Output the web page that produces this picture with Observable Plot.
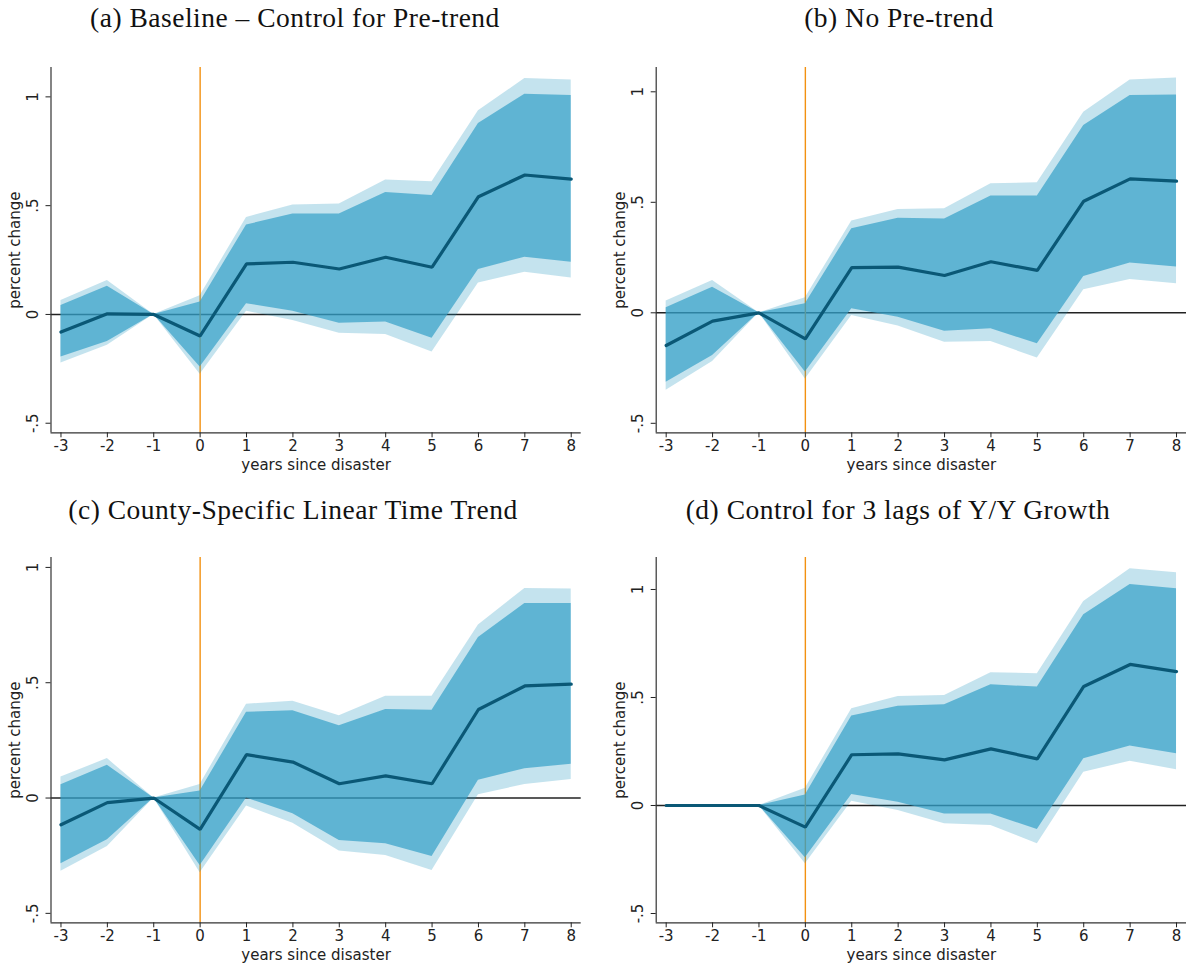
<!DOCTYPE html>
<html>
<head>
<meta charset="utf-8">
<script src="https://cdn.jsdelivr.net/npm/d3@7"></script>
<script src="https://cdn.jsdelivr.net/npm/@observablehq/plot@0.6"></script>
<style>
  body { margin: 0; background: #fff; }
  #fig { position: relative; width: 1188px; height: 967px; overflow: hidden; background: #fff; }
  .title { position: absolute; width: 600px; text-align: center; white-space: nowrap;
           font-family: "Liberation Serif", "DejaVu Serif", serif; font-size: 27.5px; letter-spacing: 0.5px; line-height: 30px; color: #111; }
  .panel { position: absolute; }
</style>
</head>
<body>
<div id="fig"></div>
<script>
// ---------- data ----------
const years = [-3, -2, -1, 0, 1, 2, 3, 4, 5, 6, 7, 8];
const xTicks = [-3, -2, -1, 0, 1, 2, 3, 4, 5, 6, 7, 8];
const yTicks = [-0.5, 0, 0.5, 1];
const yTickLabels = ["-.5", "0", ".5", "1"];
const titles = [
  "(a) Baseline \u2013 Control for Pre-trend",
  "(b) No Pre-trend",
  "(c) County-Specific Linear Time Trend",
  "(d) Control for 3 lags of Y/Y Growth"
];
const xLabel = "years since disaster";
const yLabel = "percent change";

// Panel (a)
const aEst  = [-0.081, 0.003, 0, -0.099, 0.232, 0.240, 0.209, 0.263, 0.217, 0.541, 0.641, 0.622];
const aHi90 = [0.041, 0.130, 0, 0.057, 0.411, 0.462, 0.462, 0.560, 0.547, 0.878, 1.012, 1.006];
const aLo90 = [-0.196, -0.124, 0, -0.242, 0.049, 0.015, -0.040, -0.035, -0.109, 0.206, 0.263, 0.240];
const aHi95 = [0.064, 0.156, 0, 0.086, 0.446, 0.503, 0.508, 0.618, 0.610, 0.936, 1.084, 1.078];
const aLo95 = [-0.223, -0.142, 0, -0.275, 0.015, -0.028, -0.086, -0.092, -0.173, 0.145, 0.194, 0.167];

// Panel (b)
const bEst  = [-0.148, -0.038, 0, -0.118, 0.204, 0.207, 0.169, 0.231, 0.192, 0.505, 0.606, 0.596];
const bHi90 = [0.023, 0.116, 0, 0.041, 0.380, 0.428, 0.425, 0.528, 0.528, 0.848, 0.983, 0.986];
const bLo90 = [-0.314, -0.193, 0, -0.268, 0.018, -0.020, -0.083, -0.072, -0.140, 0.164, 0.225, 0.207];
const bHi95 = [0.053, 0.146, 0, 0.068, 0.415, 0.468, 0.471, 0.584, 0.588, 0.908, 1.054, 1.063];
const bLo95 = [-0.351, -0.220, 0, -0.299, -0.012, -0.060, -0.133, -0.130, -0.205, 0.104, 0.151, 0.131];

// Panel (c)
const cEst  = [-0.116, -0.020, 0, -0.136, 0.188, 0.156, 0.062, 0.096, 0.062, 0.384, 0.486, 0.494];
const cHi90 = [0.058, 0.142, 0, 0.030, 0.372, 0.378, 0.313, 0.384, 0.381, 0.696, 0.844, 0.844];
const cLo90 = [-0.285, -0.181, 0, -0.292, 0.000, -0.068, -0.184, -0.198, -0.253, 0.077, 0.127, 0.146];
const cHi95 = [0.091, 0.171, 0, 0.059, 0.407, 0.420, 0.357, 0.441, 0.441, 0.750, 0.909, 0.906];
const cLo95 = [-0.318, -0.210, 0, -0.324, -0.035, -0.109, -0.230, -0.249, -0.314, 0.014, 0.059, 0.080];

// Panel (d)
const dEst  = [0, 0, 0, -0.100, 0.235, 0.239, 0.211, 0.262, 0.216, 0.551, 0.653, 0.620];
const dHi90 = [0, 0, 0, 0.049, 0.414, 0.460, 0.466, 0.559, 0.548, 0.883, 1.023, 1.003];
const dLo90 = [0, 0, 0, -0.242, 0.051, 0.015, -0.039, -0.039, -0.111, 0.216, 0.275, 0.239];
const dHi95 = [0, 0, 0, 0.080, 0.448, 0.505, 0.509, 0.614, 0.610, 0.944, 1.096, 1.077];
const dLo95 = [0, 0, 0, -0.270, 0.020, -0.023, -0.085, -0.093, -0.177, 0.154, 0.205, 0.165];

// ---------- layout ----------
const xDomain = [-3.215, 8.215];
const panels = [
  {est: aEst, hi90: aHi90, lo90: aLo90, hi95: aHi95, lo95: aLo95, left: 0,   top: 40,  width: 594, mL: 50.5, mR: 13.3, yDomain: [-0.544, 1.135], titleX: 295, titleY: 3},
  {est: bEst, hi90: bHi90, lo90: bLo90, hi95: bHi95, lo95: bLo95, left: 600, top: 40,  width: 588, mL: 55.7, mR: 2,    yDomain: [-0.543, 1.110], titleX: 899, titleY: 3},
  {est: cEst, hi90: cHi90, lo90: cLo90, hi95: cHi95, lo95: cLo95, left: 0,   top: 530, width: 594, mL: 50.5, mR: 13.3, yDomain: [-0.541, 1.043], titleX: 293, titleY: 495},
  {est: dEst, hi90: dHi90, lo90: dLo90, hi95: dHi95, lo95: dLo95, left: 600, top: 530, width: 588, mL: 55.7, mR: 2,    yDomain: [-0.543, 1.148], titleX: 898, titleY: 495}
];
const svgHeight = 440, mTop = 27, mBottom = 47.7;

const fig = document.getElementById("fig");

panels.forEach((p, k) => {
  const t = document.createElement("div");
  t.className = "title";
  t.textContent = titles[k];
  t.style.left = (p.titleX - 300) + "px";
  t.style.top = p.titleY + "px";
  fig.appendChild(t);

  const rows = years.map((yr, i) => ({
    year: yr, est: p.est[i], lo90: p.lo90[i], hi90: p.hi90[i], lo95: p.lo95[i], hi95: p.hi95[i]
  }));

  const chart = Plot.plot({
    width: p.width,
    height: svgHeight,
    marginLeft: p.mL,
    marginRight: p.mR,
    marginTop: mTop,
    marginBottom: mBottom,
    style: {fontFamily: "'DejaVu Sans', sans-serif", fontSize: "15px", color: "#222", background: "transparent", overflow: "visible"},
    x: {domain: xDomain},
    y: {domain: p.yDomain},
    marks: [
      Plot.ruleY([0], {stroke: "#222", strokeWidth: 1.4}),
      Plot.ruleX([0], {stroke: "#f29111", strokeWidth: 1.4}),
      Plot.areaY(rows, {x: "year", y1: "lo95", y2: "hi95", fill: "rgb(19,143,187)", fillOpacity: 0.25}),
      Plot.areaY(rows, {x: "year", y1: "lo90", y2: "hi90", fill: "rgb(52,160,199)", fillOpacity: 0.7}),
      Plot.line(rows, {x: "year", y: "est", stroke: "#0a5876", strokeWidth: 3.2, strokeLinejoin: "miter"}),
      Plot.ruleX([xDomain[0]], {stroke: "#333", strokeWidth: 1.2}),
      Plot.ruleY([p.yDomain[0]], {stroke: "#333", strokeWidth: 1.2}),
      Plot.axisX({ticks: xTicks, tickSize: 5, tickPadding: 3, tickFormat: d => String(d), fontSize: 15,
                  label: xLabel, labelAnchor: "center", labelArrow: "none", labelOffset: 37}),
      Plot.axisY({ticks: yTicks, tickSize: 5, tickPadding: 8, tickRotate: -90, fontSize: 15,
                  tickFormat: d => yTickLabels[yTicks.indexOf(d)],
                  label: yLabel, labelAnchor: "center", labelArrow: "none", labelOffset: 42})
    ]
  });
  chart.classList.add("panel");
  chart.style.left = p.left + "px";
  chart.style.top = p.top + "px";
  fig.appendChild(chart);
});
</script>
</body>
</html>
